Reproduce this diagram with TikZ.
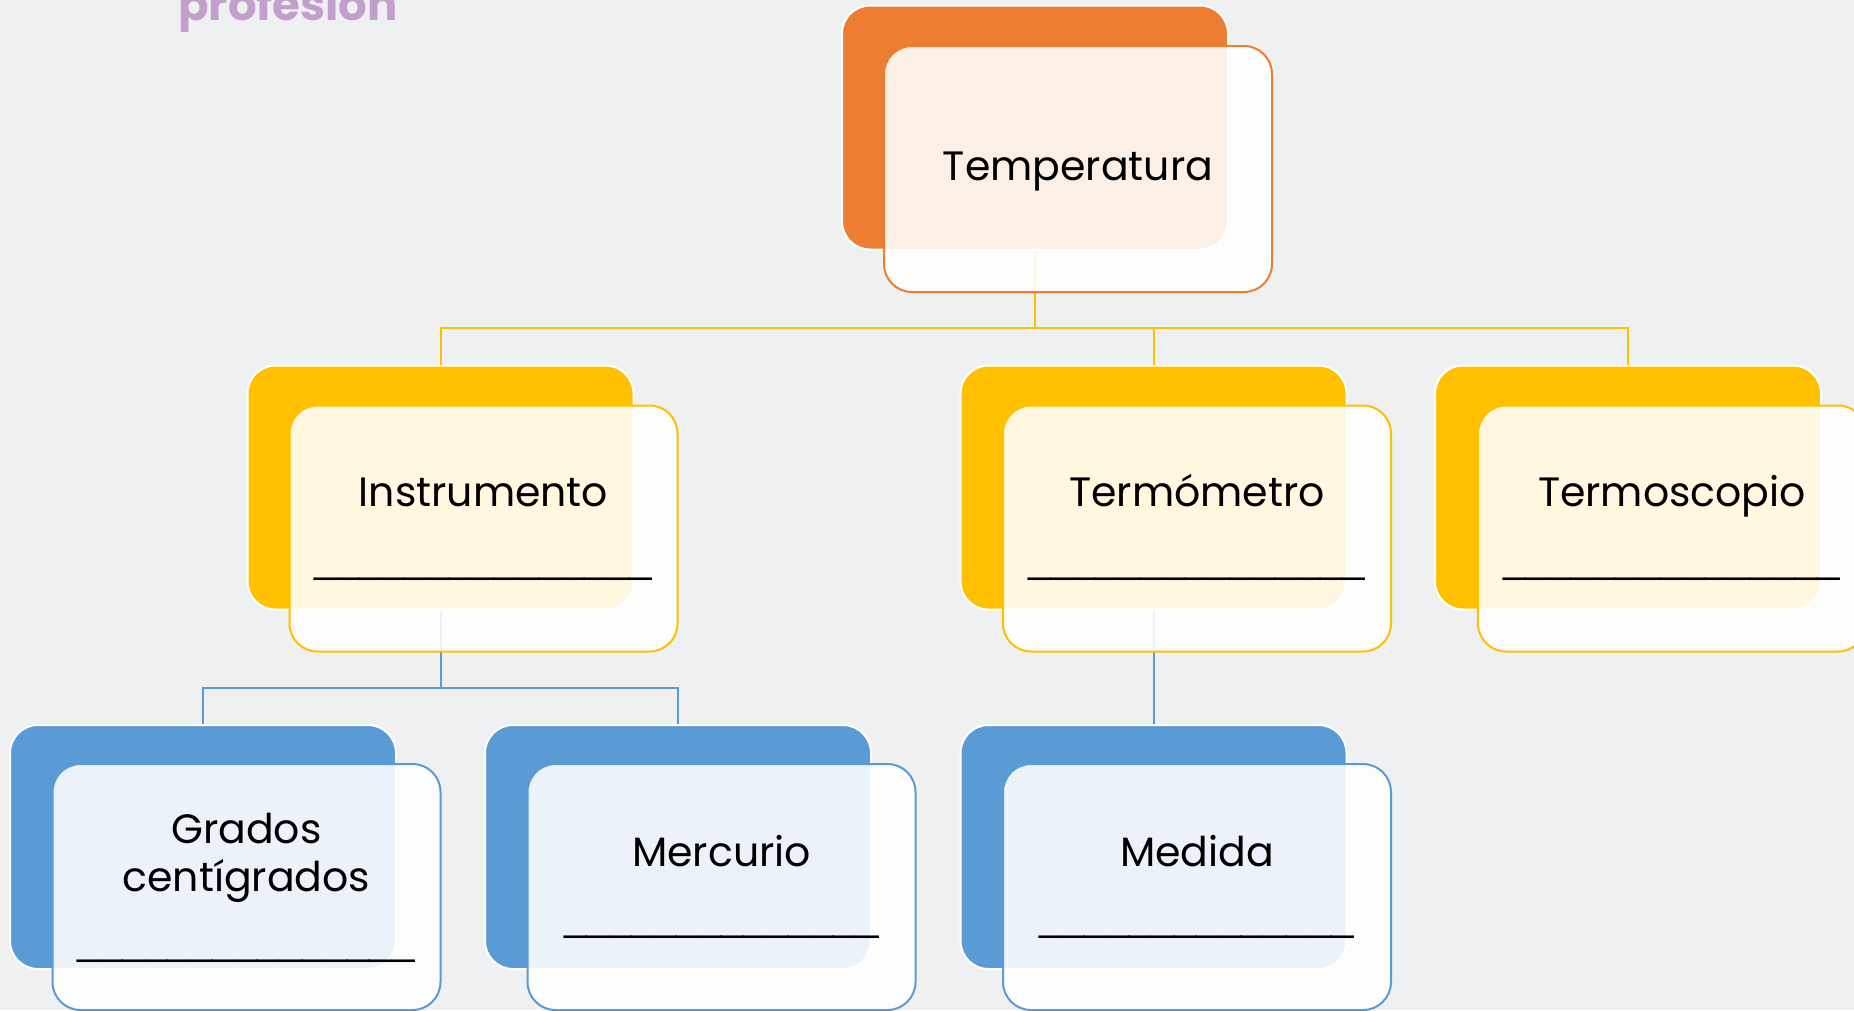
\documentclass[tikz,border=0pt]{standalone}
\usepackage{fontspec}
\setmainfont{Poppins}
\newfontfamily\blankfont{Liberation Sans}
\usetikzlibrary{calc}
\definecolor{bg}{HTML}{EFF0F2}
\definecolor{orng}{HTML}{ED7D31}
\definecolor{yel}{HTML}{FFC000}
\definecolor{blu}{HTML}{5B9BD5}
\definecolor{purp}{HTML}{C3A0CC}
\begin{document}
\begin{tikzpicture}[x=1pt,y=-1pt,
 back/.style={rectangle, rounded corners=28pt, minimum width=386pt, minimum height=244pt, fill=#1, draw=white, line width=2pt, inner sep=0pt},
 front/.style={rectangle, rounded corners=28pt, minimum width=388pt, minimum height=246pt, fill=white, fill opacity=0.88, draw=#1, draw opacity=1, line width=2pt, inner sep=0pt},
 lbl/.style={font=\fontsize{41}{48}\selectfont, text=black, inner sep=0pt, anchor=base},
 blank/.style={font=\blankfont\fontsize{40.4}{48}\selectfont, text=black, inner sep=0pt, anchor=base},
 link/.style={draw=#1, line width=2pt},
]
\fill[bg] (0,0) rectangle (1854,1010);
\useasboundingbox (0,0) rectangle (1854,1010);

\node[font=\bfseries\fontsize{45}{50}\selectfont, text=purp, inner sep=0pt, anchor=base west] (prof) at (178,20) {profesión};

% back boxes
\node[back=orng] (tempB) at (1035,127.5) {};
\node[back=yel] (instB) at (440.5,487.5) {};
\node[back=yel] (termB) at (1153.5,487.5) {};
\node[back=yel] (scopB) at (1628,487.5) {};
\node[back=blu] (gradB) at (203,847) {};
\node[back=blu] (mercB) at (678,847) {};
\node[back=blu] (mediB) at (1153.5,847) {};

% connectors
\coordinate (j1) at ($(tempB.south)+(0,77)$);
\draw[link=yel] (tempB.south) -- (j1);
\draw[link=yel] (j1) -| (instB.north);
\draw[link=yel] (j1) -| (termB.north);
\draw[link=yel] (j1) -| (scopB.north);
\coordinate (j2) at ($(instB.south)+(0,77)$);
\draw[link=blu] (instB.south) -- (j2);
\draw[link=blu] (j2) -| (gradB.north);
\draw[link=blu] (j2) -| (mercB.north);
\draw[link=blu] (termB.south) -- (mediB.north);

% front boxes
\node[front=orng] (tempF) at (1078,169) {};
\node[front=yel] (instF) at (483.5,528.5) {};
\node[front=yel] (termF) at (1197,528.5) {};
\node[front=yel] (scopF) at (1672,528.5) {};
\node[front=blu] (gradF) at (246.5,887) {};
\node[front=blu] (mercF) at (721.5,887) {};
\node[front=blu] (mediF) at (1197,887) {};

% texts
\node[lbl] (tempT) at ($(tempF.center)+(0,11)$) {Temperatura};
\node[lbl] (instT) at ($(instF.center)+(0,-22.5)$) {Instrumento};
\node[blank] (instL) at ($(instF.center)+(0,43.5)$) {\_\_\_\_\_\_\_\_\_\_\_\_\_\_\_};
\node[lbl] (termT) at ($(termF.center)+(0,-22.5)$) {Termómetro};
\node[blank] (termL) at ($(termF.center)+(0,43.5)$) {\_\_\_\_\_\_\_\_\_\_\_\_\_\_\_};
\node[lbl] (scopT) at ($(scopF.center)+(0,-22.5)$) {Termoscopio};
\node[blank] (scopL) at ($(scopF.center)+(0,43.5)$) {\_\_\_\_\_\_\_\_\_\_\_\_\_\_\_};
\node[lbl] (gradT1) at ($(gradF.center)+(0,-44)$) {Grados};
\node[lbl] (gradT2) at ($(gradF.center)+(0,4)$) {centígrados};
\node[blank] (gradL) at ($(gradF.center)+(0,67.5)$) {\_\_\_\_\_\_\_\_\_\_\_\_\_\_\_};
\node[lbl] (mercT) at ($(mercF.center)+(0,-21)$) {Mercurio};
\node[blank] (mercL) at ($(mercF.center)+(0,43.5)$) {\_\_\_\_\_\_\_\_\_\_\_\_\_\_};
\node[lbl] (mediT) at ($(mediF.center)+(0,-21)$) {Medida};
\node[blank] (mediL) at ($(mediF.center)+(0,43.5)$) {\_\_\_\_\_\_\_\_\_\_\_\_\_\_};
\end{tikzpicture}
\end{document}
